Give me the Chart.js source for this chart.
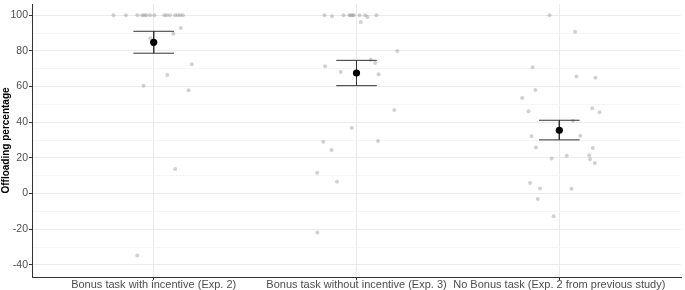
<!DOCTYPE html>
<html>
<head>
<meta charset="utf-8">
<script src="https://cdn.jsdelivr.net/npm/chart.js@4"></script>
<style>
  html, body { margin: 0; padding: 0; background: #fff; }
  #wrap { width: 685px; height: 290px; }
</style>
</head>
<body>
<div id="wrap"><canvas id="grafico" width="685" height="290"></canvas></div>
<script>
const categorias = ['Bonus task with incentive (Exp. 2)', 'Bonus task without incentive (Exp. 3)', 'No Bonus task (Exp. 2 from previous study)'];
const yTicks = [-40, -20, 0, 20, 40, 60, 80, 100];

// jitter offsets and values
const jitter1 = [-0.198, -0.137, -0.080, -0.057, -0.046, -0.036, -0.018, 0.003, 0.052, 0.064, 0.080, 0.105, 0.118, 0.131, 0.144,
                 0.134, 0.097, -0.016, 0.188, 0.067, -0.050, 0.172, 0.106, -0.081];
const valores1 = [100, 100, 100, 100, 100, 100, 100, 100, 100, 100, 100, 100, 100, 100, 100,
                  92.8, 89.6, 87.1, 72.5, 66.5, 60.4, 57.9, 13.7, -34.8];

const jitter2 = [-0.158, -0.121, -0.064, -0.036, -0.028, -0.020, -0.013, 0.015, 0.043, 0.054, 0.098,
                 0.021, 0.201, 0.070, 0.092, -0.155, -0.078, 0.109, 0.186, -0.023, -0.164, 0.106, -0.123, -0.194, -0.096, -0.193];
const valores2 = [100, 99.4, 100, 100, 100, 100, 100, 100, 100, 99, 100,
                  96.2, 80, 75.1, 73.2, 71.4, 68.2, 66.9, 46.9, 36.7, 29.0, 29.4, 24.4, 11.6, 6.6, -21.9];

const jitter3 = [-0.048, 0.078, -0.132, 0.085, 0.178, -0.118, -0.183, -0.152, 0.162, 0.198, 0.067, -0.137, 0.103,
                 -0.115, 0.165, -0.038, 0.037, 0.147, 0.152, 0.175, -0.144, -0.095, 0.060, -0.106, -0.028];
const valores3 = [100, 90.8, 70.8, 65.6, 65.0, 58.1, 53.6, 46.2, 47.9, 45.6, 40.8, 32.2, 32.4,
                  25.8, 25.6, 19.7, 21.2, 21.5, 19.3, 17.1, 5.9, 2.9, 2.7, -3.1, -12.8];

const medias = [84.8, 67.6, 35.5];
const limiteInf = [78.7, 60.5, 30.1];
const limiteSup = [91.0, 74.7, 41.1];

const anchoBarra = 0.1;

const jitters = [jitter1, jitter2, jitter3];
const valores = [valores1, valores2, valores3];

const puntos = [];
jitters.forEach((j, g) => {
    j.forEach((dx, i) => puntos.push({ x: g + 1 + dx, y: valores[g][i] }));
});

const barras = [];
medias.forEach((m, g) => {
    const c = g + 1;
    barras.push({ x: c - anchoBarra, y: limiteSup[g] }, { x: c + anchoBarra, y: limiteSup[g] }, { x: c, y: null });
    barras.push({ x: c, y: limiteSup[g] }, { x: c, y: limiteInf[g] }, { x: c, y: null });
    barras.push({ x: c - anchoBarra, y: limiteInf[g] }, { x: c + anchoBarra, y: limiteInf[g] }, { x: c, y: null });
});

const ctx = document.getElementById('grafico').getContext('2d');

new Chart(ctx, {
    type: 'scatter',
    data: {
        datasets: [
            {
                label: 'media',
                data: medias.map((m, g) => ({ x: g + 1, y: m })),
                backgroundColor: '#000',
                borderWidth: 0,
                pointRadius: 3.6,
                order: 0
            },
            {
                type: 'line',
                label: 'error',
                data: barras,
                borderColor: '#333',
                borderWidth: 1,
                pointRadius: 0,
                spanGaps: false,
                fill: false,
                order: 1
            },
            {
                label: 'participantes',
                data: puntos,
                backgroundColor: 'rgba(140,140,140,0.4)',
                borderWidth: 0,
                pointRadius: 2,
                clip: false,
                order: 2
            }
        ]
    },
    options: {
        responsive: false,
        animation: false,
        devicePixelRatio: 1,
        layout: { padding: 0 },
        plugins: {
            legend: { display: false },
            tooltip: { enabled: false }
        },
        scales: {
            x: {
                type: 'linear',
                min: 0.4,
                max: 3.6,
                afterBuildTicks: s => { s.ticks = categorias.map((c, i) => ({ value: i + 1 })); },
                afterFit: s => {
                    s.height = 13;
                    s.paddingLeft = 0;
                    s.paddingRight = 0;
                },
                ticks: {
                    callback: v => categorias[v - 1],
                    color: '#4d4d4d',
                    font: { family: 'Liberation Sans', size: 11 },
                    padding: -2,
                    maxRotation: 0,
                    autoSkip: false
                },
                grid: { color: '#ebebeb', tickColor: '#333', tickLength: 3 },
                border: { color: '#333', width: 1 }
            },
            y: {
                min: -46.8,
                max: 106.3,
                afterBuildTicks: s => {
                    const t = [];
                    for (let v = -40; v <= 100; v += 10) t.push({ value: v });
                    s.ticks = t;
                },
                afterFit: s => {
                    s.width = 32;
                    s.paddingTop = 0;
                    s.paddingBottom = 0;
                },
                ticks: {
                    callback: v => yTicks.includes(v) ? v : '',
                    color: '#4d4d4d',
                    font: { family: 'Liberation Sans', size: 10.5 },
                    padding: 1
                },
                grid: {
                    color: c => yTicks.includes(c.tick.value) ? '#ebebeb' : '#f5f5f5',
                    tickColor: c => yTicks.includes(c.tick.value) ? '#333' : 'rgba(0,0,0,0)',
                    tickLength: 3
                },
                border: { color: '#333', width: 1 },
                title: {
                    display: true,
                    text: 'Offloading percentage',
                    color: '#000',
                    font: { family: 'Liberation Sans', size: 10, weight: 'bold' },
                    padding: 0
                }
            }
        }
    }
});
</script>
</body>
</html>
